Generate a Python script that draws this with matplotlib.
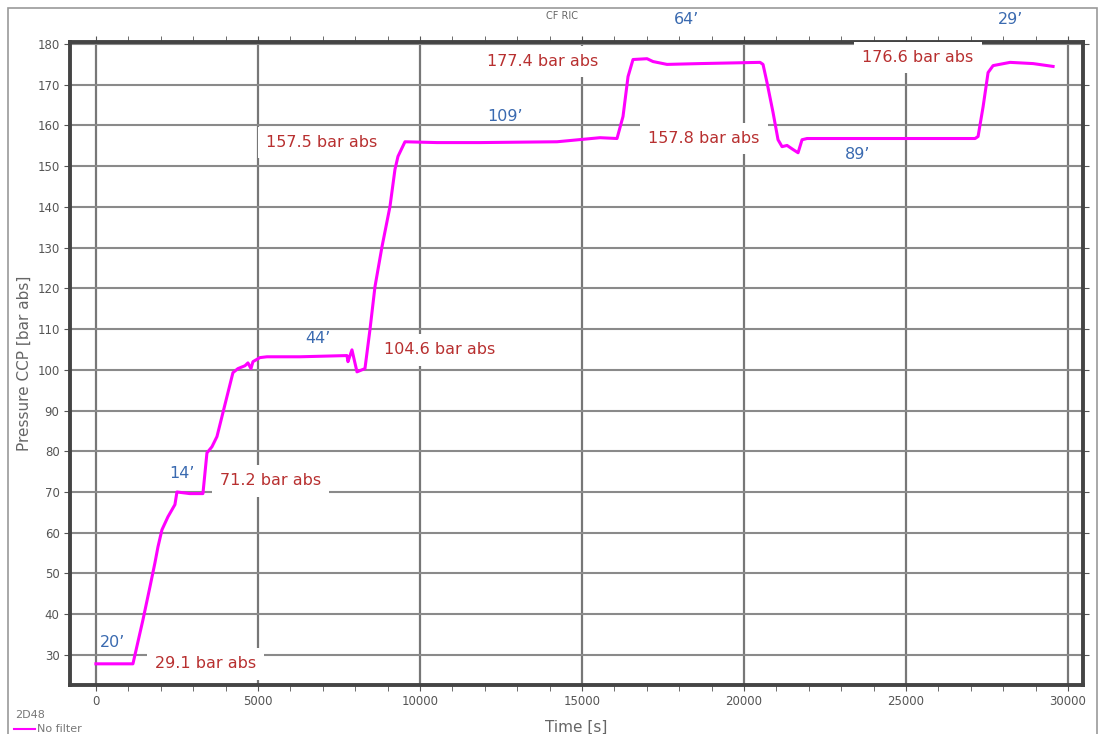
import matplotlib.pyplot as plt
from matplotlib.lines import Line2D
from matplotlib.patches import Rectangle
from matplotlib.ticker import MultipleLocator

# Traza de presion
tiempo = [0, 1142, 1451, 1667, 1821, 1914, 2037, 2222, 2438, 2500, 2901, 3302,
          3426, 3580, 3735, 3920, 4228, 4383, 4599, 4691, 4784, 4846, 5062, 5278,
          6296, 7747, 7778, 7901, 8056, 8302, 8457, 8611, 8827, 9074, 9228, 9321,
          9537, 10525, 11852, 14228, 15556, 16080, 16265, 16420, 16574, 17006,
          17191, 17623, 18642, 20494, 20586, 20710, 20895, 21049, 21173, 21327,
          21512, 21667, 21790, 21944, 27130, 27222, 27377, 27531, 27685, 28210,
          28920, 29537]
presion = [27.8, 27.8, 38.6, 46.7, 52.6, 56.5, 60.7, 63.9, 66.9, 70.0, 69.6, 69.6,
           79.6, 81.1, 83.6, 89.5, 99.3, 100.3, 101.0, 101.7, 100.3, 102.0, 103.0, 103.2,
           103.2, 103.5, 102.0, 104.9, 99.5, 100.3, 109.9, 120.4, 130.2, 140.1, 149.2, 152.4,
           156.0, 155.8, 155.8, 156.0, 157.0, 156.8, 162.2, 172.0, 176.2, 176.4,
           175.7, 175.0, 175.2, 175.5, 175.0, 170.5, 163.2, 156.5, 154.8, 155.1,
           154.1, 153.3, 156.5, 156.8, 156.8, 157.3, 164.6, 173.0, 174.7, 175.5,
           175.2, 174.5]

# Etiquetas de presion (rojo)
etiquetas_p = ["29.1 bar abs", "71.2 bar abs", "104.6 bar abs", "157.5 bar abs",
               "177.4 bar abs", "157.8 bar abs", "176.6 bar abs"]
pos_p_x = [1821, 3827, 8889, 5247, 12067, 17037, 23642]
pos_p_y = [27.8, 72.7, 104.9, 155.8, 175.7, 156.8, 176.7]

# Duraciones (azul)
etiquetas_t = ["20\u2019", "14\u2019", "44\u2019", "109\u2019", "64\u2019", "89\u2019", "29\u2019"]
pos_t_x = [525, 2654, 6851, 12623, 18210, 23488, 28210]
pos_t_y = [33.0, 74.5, 107.6, 162.2, 186.1, 152.9, 186.1]

gris = '#666666'
fig = plt.figure(figsize=(11.03, 7.34), dpi=100)
ax = fig.add_axes([70 / 1103, 1 - 685 / 734, 1013 / 1103, 643 / 734])

ax.plot(tiempo, presion, color='#ff00ff', linewidth=2.2, zorder=3)

ax.set_xlim(-800, 30460)
ax.set_ylim(22.6, 180.5)
ax.xaxis.set_major_locator(MultipleLocator(5000))
ax.xaxis.set_minor_locator(MultipleLocator(1000))
ax.yaxis.set_major_locator(MultipleLocator(10))
ax.grid(True, which='major', axis='x', color='#777777', linewidth=1.6)
ax.grid(True, which='major', axis='y', color='#8a8a8a', linewidth=1.5)
ax.tick_params(which='both', direction='out', length=4, color='#555555',
               top=True, right=True, labelsize=8.5, labelcolor='#555555')
ax.tick_params(which='minor', length=4)
for s in ax.spines.values():
    s.set_linewidth(2.8)
    s.set_color('#444444')

ax.set_xlabel("Time [s]", color=gris, fontsize=11, labelpad=8)
ax.set_ylabel("Pressure CCP [bar abs]", color=gris, fontsize=11, labelpad=4)

caja = dict(facecolor='white', edgecolor='none', pad=6)
for t, x, y in zip(etiquetas_p, pos_p_x, pos_p_y):
    ax.text(x, y, t, color='#b83030', fontsize=11.5, ha='left', va='center',
            bbox=caja, zorder=4, clip_on=False)
for t, x, y in zip(etiquetas_t, pos_t_x, pos_t_y):
    ax.text(x, y, t, color='#3a6ab0', fontsize=11.5, ha='center', va='center',
            zorder=5, clip_on=False)

fig.text(562 / 1103, 1 - 16 / 734, "CF RIC", color=gris, fontsize=7, ha='center', va='center')
fig.text(15 / 1103, 1 - 715 / 734, "2D48", color='#777777', fontsize=8, ha='left', va='center')
fig.add_artist(Line2D([14 / 1103, 35 / 1103], [1 - 729 / 734] * 2, color='#ff00ff', linewidth=1.5))
fig.text(37 / 1103, 1 - 729 / 734, "No filter", color='#777777', fontsize=8, ha='left', va='center')
fig.add_artist(Rectangle((8 / 1103, -0.02), 1089 / 1103, 1.02 - 8 / 734, fill=False,
                         edgecolor='#999999', linewidth=1.2, transform=fig.transFigure))

fig.savefig("out.png", dpi=100)
